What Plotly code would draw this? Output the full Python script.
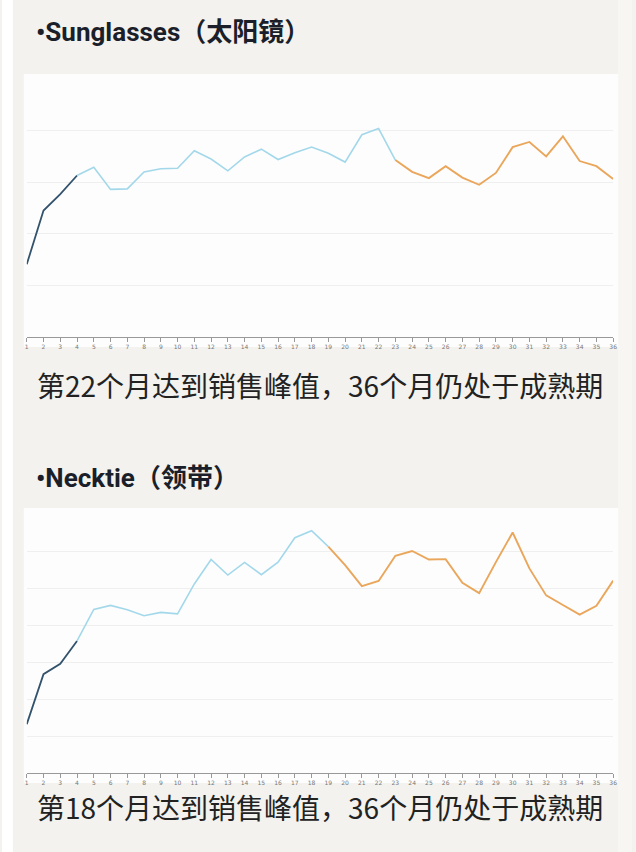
import plotly.graph_objects as go

W, H = 636, 852

# data
months = list(range(1, 37))
tick_labels = [str(m) for m in months]

sunglasses = [1.41, 2.45, 2.77, 3.13, 3.29, 2.86, 2.87, 3.20, 3.26, 3.27,
              3.61, 3.45, 3.22, 3.49, 3.64, 3.44, 3.57, 3.68, 3.56, 3.39,
              3.92, 4.04, 3.43, 3.20, 3.08, 3.31, 3.09, 2.95, 3.18, 3.68,
              3.78, 3.50, 3.89, 3.41, 3.31, 3.06]
necktie = [1.32, 2.67, 2.95, 3.57, 4.42, 4.53, 4.41, 4.25, 4.34, 4.30,
           5.11, 5.77, 5.35, 5.69, 5.36, 5.70, 6.36, 6.55, 6.12, 5.62,
           5.05, 5.19, 5.87, 6.00, 5.77, 5.78, 5.14, 4.86, 5.70, 6.50,
           5.53, 4.80, 4.54, 4.28, 4.52, 5.20]

# phase boundaries (month where growth ends / where decline phase begins)
sun_growth_end, sun_mature_start = 4, 23
tie_growth_end, tie_mature_start = 4, 19

titles = ["•Sunglasses（太阳镜）", "•Necktie（领带）"]
captions = ["第22个月达到销售峰值，36个月仍处于成熟期",
            "第18个月达到销售峰值，36个月仍处于成熟期"]

DARK = "#33536d"
BLUE = "#a3d8eb"
ORANGE = "#eaa65b"
PANEL = "#f3f2ee"


def px_x(p):
    return p / W


def px_y(p):
    return (H - p) / H


fig = go.Figure()


def add_series(vals, g_end, m_start, xa, ya):
    segs = [(1, g_end, DARK, 1.8), (g_end, m_start, BLUE, 1.6), (m_start, 36, ORANGE, 1.9)]
    for a, b, col, w in segs:
        fig.add_trace(go.Scatter(x=months[a - 1:b], y=vals[a - 1:b], mode="lines",
                                 line=dict(color=col, width=w), xaxis=xa, yaxis=ya,
                                 showlegend=False, hoverinfo="skip"))


add_series(sunglasses, sun_growth_end, sun_mature_start, "x", "y")
add_series(necktie, tie_growth_end, tie_mature_start, "x2", "y2")

xcommon = dict(range=[1, 36], tickmode="array", tickvals=months, ticktext=tick_labels,
               tickfont=dict(size=6, color="#777", family="DejaVu Sans"),
               ticks="outside", ticklen=4, tickcolor="#999", tickwidth=1,
               showline=True, linecolor="#999", linewidth=1.2,
               showgrid=False, zeroline=False, fixedrange=True)
ycommon = dict(showticklabels=False, showgrid=True, gridcolor="#efefef", gridwidth=1,
               zeroline=False, showline=False, ticks="", dtick=1, fixedrange=True)

fig.update_layout(
    width=W, height=H,
    margin=dict(l=0, r=0, t=0, b=0),
    paper_bgcolor=PANEL, plot_bgcolor="rgba(0,0,0,0)",
    xaxis=dict(domain=[px_x(25), px_x(617)], anchor="y", **xcommon),
    yaxis=dict(domain=[px_y(337), px_y(79)], range=[0, 5], anchor="x", **ycommon),
    xaxis2=dict(domain=[px_x(25), px_x(617)], anchor="y2", **xcommon),
    yaxis2=dict(domain=[px_y(773), px_y(514)], range=[0, 7], anchor="x2", **ycommon),
)

# page strips and white chart cards
shapes = [
    dict(type="rect", xref="paper", yref="paper", x0=0, x1=px_x(11), y0=0, y1=1,
         fillcolor="#ffffff", line=dict(width=0), layer="below"),
    dict(type="rect", xref="paper", yref="paper", x0=px_x(622), x1=1, y0=0, y1=1,
         fillcolor="#f7f6f3", line=dict(width=0), layer="below"),
    dict(type="rect", xref="paper", yref="paper", x0=px_x(22), x1=px_x(622), y0=px_y(347), y1=px_y(74),
         fillcolor="#fdfdfd", line=dict(width=0), layer="below"),
    dict(type="rect", xref="paper", yref="paper", x0=px_x(22), x1=px_x(622), y0=px_y(783), y1=px_y(508),
         fillcolor="#fdfdfd", line=dict(width=0), layer="below"),
]
fig.update_layout(shapes=shapes)

title_y = [32, 478]
caption_y = [385, 807]
for i in range(2):
    fig.add_annotation(text="<b>" + titles[i] + "</b>", xref="paper", yref="paper",
                       x=px_x(32), y=px_y(title_y[i]), xanchor="left", yanchor="middle",
                       showarrow=False,
                       font=dict(size=26, color="#1b1f2a", family="Roboto, Noto Sans CJK SC"))
    fig.add_annotation(text=captions[i], xref="paper", yref="paper",
                       x=px_x(33), y=px_y(caption_y[i]), xanchor="left", yanchor="middle",
                       showarrow=False,
                       font=dict(size=28, color="#222222", family="Noto Sans CJK SC"))

# make the figure sit flush in the window, no body margin and no overflow
page_js = ("document.documentElement.style.margin='0';"
           "document.documentElement.style.overflow='hidden';"
           "document.body.style.margin='0';"
           "document.body.style.overflow='hidden';"
           "document.body.style.height='852px';")
fig.write_html("out.html", config={"displayModeBar": False}, post_script=page_js)
